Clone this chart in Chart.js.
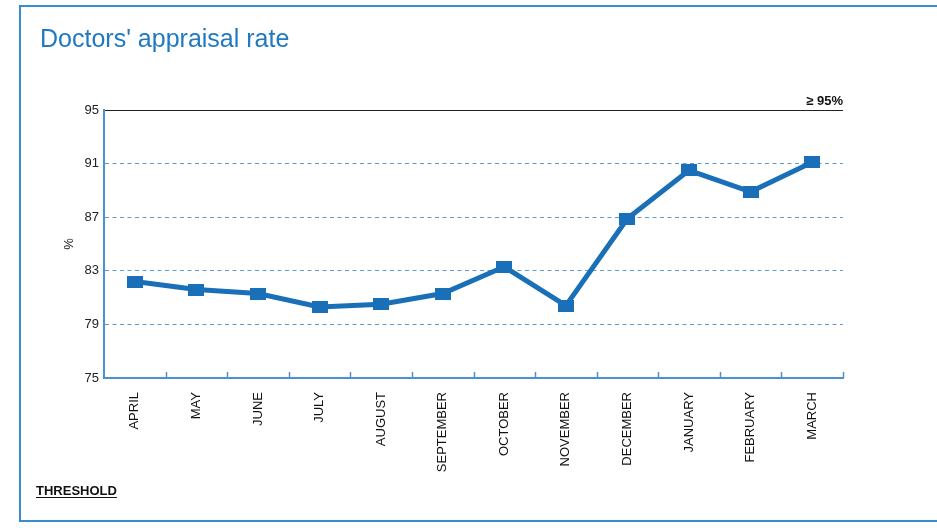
<!DOCTYPE html>
<html>
<head>
<meta charset="utf-8">
<title>Doctors' appraisal rate</title>
<script src="https://cdn.jsdelivr.net/npm/chart.js@4.4.1/dist/chart.umd.min.js"></script>
<style>
  html, body { margin: 0; padding: 0; background: #fff; overflow: hidden; }
  #frame {
    position: absolute; left: 19px; top: 5px;
    width: 940px; height: 517px;
    border: 2px solid #3b8bd0; border-right: none; box-sizing: border-box;
  }
  #frame canvas { display: block; }
</style>
</head>
<body>
<div id="frame"><canvas id="rateChart" width="912" height="513"></canvas></div>
<script>
// ===== DATA =====
const months = ["APRIL", "MAY", "JUNE", "JULY", "AUGUST", "SEPTEMBER",
                "OCTOBER", "NOVEMBER", "DECEMBER", "JANUARY", "FEBRUARY", "MARCH"];
const appraisalRate = [82.2, 81.6, 81.3, 80.3, 80.5, 81.3, 83.3, 80.4, 86.9, 90.5, 88.9, 91.1];
const yMin = 75;
const yMax = 95;
const yStep = 4;
const targetValue = 95;
const targetLabel = "\u2265 95%";

// ===== STYLE =====
const FONT = "'Liberation Sans', Arial, sans-serif";
const lineBlue = "#1a70b8";
const axisBlue = "#4a93d3";
const gridBlue = "#5a9bd5";
const titleBlue = "#2179c2";

// wide-ish square marker like the original
const marker = document.createElement("canvas");
marker.width = 16;
marker.height = 12;
const mctx = marker.getContext("2d");
mctx.fillStyle = lineBlue;
mctx.fillRect(0, 0, 16, 12);

// ===== EXTRA DRAWING: title, inner ticks, target label, threshold =====
const annotations = {
  id: "annotations",
  afterDraw(chart) {
    const { ctx, chartArea, scales: { x, y } } = chart;
    ctx.save();

    // title
    ctx.fillStyle = titleBlue;
    ctx.font = "25px " + FONT;
    ctx.textAlign = "left";
    ctx.textBaseline = "alphabetic";
    ctx.fillText("Doctors' appraisal rate", 19, 40);

    // small tick marks pointing up from the x axis at category boundaries
    ctx.strokeStyle = axisBlue;
    ctx.lineWidth = 1.5;
    for (let i = 1; i <= months.length; i++) {
      const px = Math.round(x.getPixelForValue(i - 0.5)) + 0.5;
      ctx.beginPath();
      ctx.moveTo(px, chartArea.bottom);
      ctx.lineTo(px, chartArea.bottom - 6);
      ctx.stroke();
    }

    // target label above the 95 line
    ctx.fillStyle = "#111";
    ctx.font = "bold 13px " + FONT;
    ctx.textAlign = "right";
    ctx.fillText(targetLabel, chartArea.right, y.getPixelForValue(targetValue) - 5);

    // THRESHOLD (underlined)
    ctx.textAlign = "left";
    ctx.fillText("THRESHOLD", 15, 488);
    const w = ctx.measureText("THRESHOLD").width;
    ctx.strokeStyle = "#111";
    ctx.lineWidth = 1;
    ctx.beginPath();
    ctx.moveTo(15, 490.5);
    ctx.lineTo(15 + w, 490.5);
    ctx.stroke();

    ctx.restore();
  }
};

// ===== CHART =====
new Chart(document.getElementById("rateChart"), {
  type: "line",
  data: {
    labels: months,
    datasets: [{
      data: appraisalRate,
      borderColor: lineBlue,
      backgroundColor: lineBlue,
      borderWidth: 5,
      tension: 0,
      pointStyle: marker,
      pointRadius: 7,
      fill: false
    }]
  },
  options: {
    responsive: false,
    animation: false,
    events: [],
    layout: { padding: { left: 0, right: 90, top: 103, bottom: 0 } },
    plugins: {
      legend: { display: false },
      title: { display: false },
      tooltip: { enabled: false }
    },
    scales: {
      x: {
        type: "category",
        offset: true,
        afterFit: scale => { scale.height = 142; },
        grid: { display: false, drawTicks: false },
        border: { display: true, color: axisBlue, width: 2 },
        ticks: {
          autoSkip: false,
          minRotation: 90,
          maxRotation: 90,
          padding: 14,
          color: "#111",
          font: { family: FONT, size: 13 }
        }
      },
      y: {
        min: yMin,
        max: yMax,
        afterFit: scale => { scale.width = 83; },
        ticks: {
          stepSize: yStep,
          padding: 5,
          color: "#222",
          font: { family: FONT, size: 13 }
        },
        grid: {
          drawTicks: false,
          lineWidth: 1,
          color: c => {
            if (!c.tick) return gridBlue;
            if (c.tick.value === targetValue) return "#222";
            if (c.tick.value === yMin) return "rgba(0,0,0,0)";
            return gridBlue;
          }
        },
        border: {
          display: true,
          color: axisBlue,
          width: 2,
          dash: c => (c.tick && c.tick.value === targetValue) ? [] : [4, 3.5]
        },
        title: {
          display: true,
          text: "%",
          color: "#222",
          padding: { top: 41, bottom: 0 },
          font: { family: FONT, size: 13 }
        }
      }
    }
  },
  plugins: [annotations]
});
</script>
</body>
</html>
